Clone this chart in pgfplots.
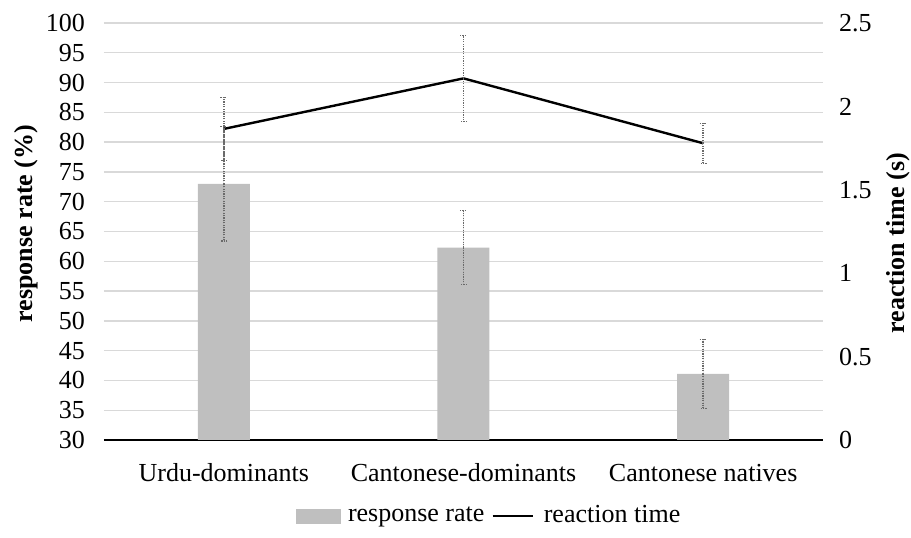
\documentclass[border=0pt]{standalone}
\usepackage{fontspec}
\setmainfont{Liberation Serif}
\usepackage{pgfplots}
\pgfplotsset{compat=1.18}
\definecolor{barcol}{HTML}{BFBFBF}
\definecolor{gridcol}{HTML}{D9D9D9}
\definecolor{errcol}{HTML}{6A6A6A}
\begin{document}
\fontsize{26}{31}\selectfont
\begin{tikzpicture}
\begin{axis}[
  at={(0,0)}, anchor=south west,
  scale only axis, width=719pt, height=417pt,
  xmin=-0.5, xmax=2.5, ymin=30, ymax=100,
  xtick={0,1,2},
  xticklabels={Urdu-dominants,Cantonese-dominants,Cantonese natives},
  ytick={30,35,...,100},
  ymajorgrids, grid style={gridcol, line width=1.3pt},
  major tick length=0pt,
  axis x line*=bottom, axis y line*=left,
  x axis line style={line width=2.6pt, black, -},
  y axis line style={draw=none},
  /pgf/number format/assume math mode=true,
  yticklabel style={anchor=east, inner sep=0pt, xshift=-19pt},
  xticklabel style={anchor=center, inner sep=0pt, yshift=-33pt},
  ylabel={\textbf{response rate (\%)}},
  ylabel style={at={(axis description cs:-0.1085,0.519)}, anchor=center, rotate=0},
  ybar, bar width=52pt,
]
\addplot[fill=barcol, draw=none,
  error bars/.cd, y dir=both, y explicit, error mark=-,
  error bar style={errcol, line width=1.6pt, dash pattern=on 1.2pt off 1.2pt},
  error mark options={errcol, line width=1.4pt, mark size=3.5pt, rotate=90, dash pattern=on 1.2pt off 1.2pt}]
  coordinates {(0,73.0) +- (0,9.6) (1,62.3) +- (0,6.2) (2,41.1) +- (0,5.8)};
\end{axis}
\begin{axis}[
  at={(0,0)}, anchor=south west,
  scale only axis, width=719pt, height=417pt,
  xmin=-0.5, xmax=2.5, ymin=0, ymax=2.5,
  xtick=\empty,
  ytick={0,0.5,1,1.5,2,2.5},
  yticklabels={0,0.5,1,1.5,2,2.5},
  major tick length=0pt,
  axis x line=none, axis y line*=right,
  y axis line style={draw=none},
  /pgf/number format/assume math mode=true,
  yticklabel style={anchor=west, inner sep=0pt, xshift=16pt},
  ylabel={\textbf{reaction time (s)}},
  ylabel style={at={(axis description cs:1.104,0.472)}, anchor=center, rotate=0},
  legend style={at={(0.534,-0.182)}, anchor=center, draw=none, fill=none,
    legend columns=-1, nodes={inner xsep=0pt, inner ysep=3pt},
    /tikz/every even column/.style={column sep=7pt},
    /tikz/every odd column/.style={column sep=0pt}},
]
\addlegendimage{legend image code/.code={\fill[barcol] (0pt,-7pt) rectangle (44pt,7pt); \path (52pt,0pt);}}
\addlegendentry{response rate}
\addlegendimage{legend image code/.code={\draw[line width=2.4pt, black] (0pt,0pt) -- (40pt,0pt); \path (51pt,0pt);}}
\addlegendentry{reaction time}
\addplot[black, line width=2.4pt, mark=none, forget plot,
  error bars/.cd, y dir=both, y explicit, error mark=-,
  error bar style={errcol, line width=1.6pt, dash pattern=on 1.2pt off 1.2pt},
  error mark options={errcol, line width=1.4pt, mark size=3.5pt, rotate=90, dash pattern=on 1.2pt off 1.2pt}]
  coordinates {(0,1.865) +- (0,0.19) (1,2.168) +- (0,0.258) (2,1.779) +- (0,0.12)};
\end{axis}
\pgfresetboundingbox
\path[use as bounding box] (-104pt,-98pt) rectangle (807pt,440pt);
\end{tikzpicture}
\end{document}
